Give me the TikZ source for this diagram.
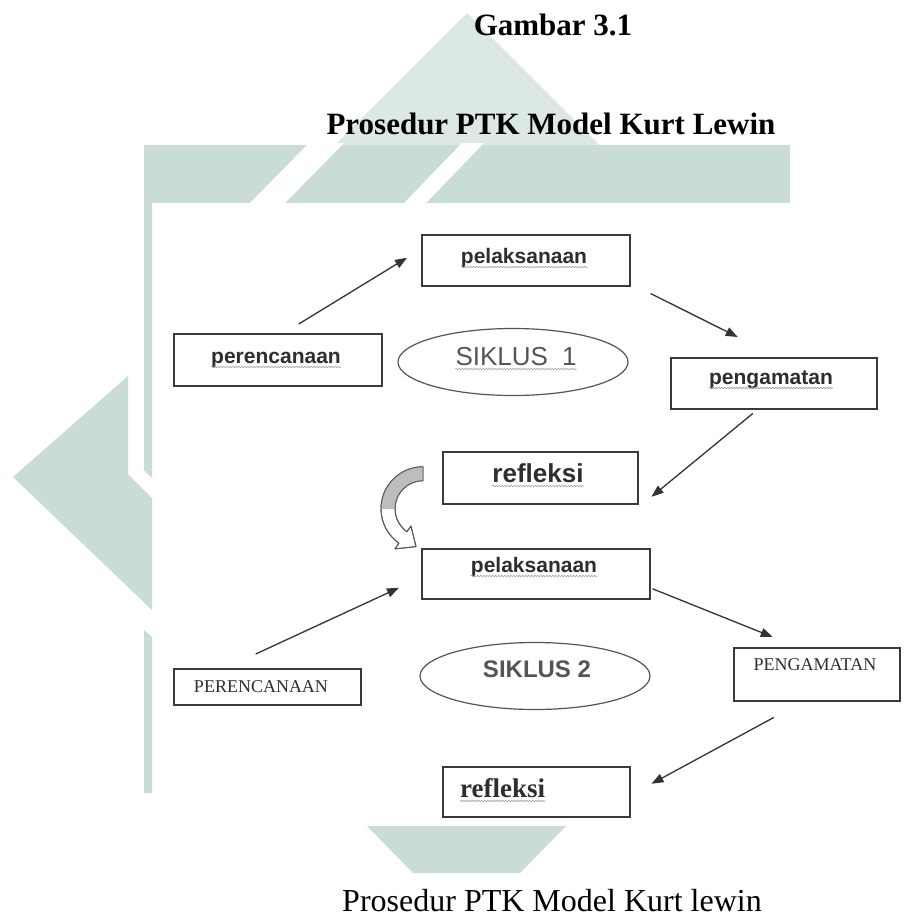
\documentclass[tikz,border=0pt]{standalone}
\usepackage{fontspec}
\setmainfont{Liberation Serif}
\newfontfamily\arialfont{Liberation Sans}
\usetikzlibrary{arrows.meta,calc,shapes.geometric,decorations.pathmorphing}
\definecolor{wm}{HTML}{CADDD4}
\definecolor{wmlight}{HTML}{DCE8E3}
\definecolor{boxline}{HTML}{3A3A3A}
\definecolor{txtdark}{HTML}{2E2E2E}
\definecolor{txtgray}{HTML}{555555}
\definecolor{arrowfill}{HTML}{BDBDBD}
\definecolor{squigc}{HTML}{9AA0A8}
\begin{document}
\begin{tikzpicture}[x=1pt,y=-1pt,
  boxn/.style={draw=boxline,line width=1.5pt,inner sep=0pt,anchor=north west},
  oval/.style={ellipse,draw=txtgray,line width=1.2pt,inner sep=0pt},
  sansb/.style={anchor=base,inner sep=0pt,text=txtdark,font=\arialfont\bfseries\fontsize{21pt}{21pt}\selectfont},
  serifcaps/.style={anchor=base,inner sep=0pt,text=txtdark,font=\fontsize{18pt}{18pt}\selectfont},
  sikl/.style={anchor=base,inner sep=0pt,text=txtgray},
  arr/.style={draw=black!80,line width=1.3pt,-{Triangle[length=12pt,width=9pt]}},
  squig/.style={draw=squigc,line width=0.6pt,decorate,decoration={snake,segment length=3pt,amplitude=0.8pt}},
  titlef/.style={anchor=base,inner sep=0pt,font=\bfseries\fontsize{31pt}{31pt}\selectfont},
  capf/.style={anchor=base,inner sep=0pt,font=\fontsize{32pt}{32pt}\selectfont}]
\useasboundingbox (0,0) rectangle (912,919);
\fill[white] (0,0) rectangle (912,919);

% watermark
\fill[wmlight] (467,13) -- (599,145) -- (335,145) -- cycle;
\fill[wm] (145,145) rectangle (790,203);
\fill[white] (250,203) -- (285,203) -- (344,143) -- (309,143) -- cycle;
\fill[white] (404,203) -- (426,203) -- (484,143) -- (462,143) -- cycle;
\fill[wm] (144,145) -- (152,145) -- (152,478) -- (144,470) -- cycle;
\fill[wm] (13,477) -- (128,376) -- (128,474) -- (152,498) -- (152,610) -- cycle;
\fill[wm] (144,630) -- (152,637) -- (152,793) -- (144,793) -- cycle;
\fill[wm] (367,826) -- (566,826) -- (520,873) -- (413,873) -- cycle;

% titles
\node[titlef] (gambar) at (553,35) {Gambar 3.1};
\node[titlef] (judul) at (551,134) {Prosedur PTK Model Kurt Lewin};
\node[capf] (caption) at (552,911) {Prosedur PTK Model Kurt lewin};

% cycle 1
\node[boxn,minimum width=208pt,minimum height=52pt] (perenc1) at (173,333) {};
\node[boxn,minimum width=208pt,minimum height=51pt] (pelaks1) at (421,234) {};
\node[oval,minimum width=230pt,minimum height=67pt] (siklus1) at (513,362) {};
\node[boxn,minimum width=206pt,minimum height=51pt] (peng1) at (670,357) {};
\node[boxn,minimum width=195pt,minimum height=52pt] (refl1) at (442,451) {};

\node[sansb] (tperenc1) at (276,363) {perencanaan};
\node[sansb] (tpelaks1) at (524,263) {pelaksanaan};
\node[sikl,font=\arialfont\fontsize{26pt}{26pt}\selectfont] (tsik1) at (516,365) {SIKLUS\hspace{14pt}1};
\node[sansb] (tpeng1) at (771,384) {pengamatan};
\node[sansb,font=\arialfont\bfseries\fontsize{26pt}{26pt}\selectfont] (trefl1) at (538,482) {refleksi};

% cycle 2
\node[boxn,minimum width=228pt,minimum height=50pt] (pelaks2) at (421,548) {};
\node[oval,minimum width=230pt,minimum height=67pt] (siklus2) at (535,676) {};
\node[boxn,minimum width=187pt,minimum height=36pt] (perenc2) at (173,668) {};
\node[boxn,minimum width=166pt,minimum height=53pt] (peng2) at (733,647) {};
\node[boxn,minimum width=187pt,minimum height=50pt] (refl2) at (442,766) {};

\node[sansb] (tpelaks2) at (534,572) {pelaksanaan};
\node[sikl,font=\arialfont\bfseries\fontsize{24pt}{24pt}\selectfont] (tsik2) at (537,677) {SIKLUS 2};
\node[serifcaps] (tperenc2) at (261,692) {PERENCANAAN};
\node[serifcaps] (tpeng2) at (815,670) {PENGAMATAN};
\node[anchor=base west,inner sep=0pt,text=txtdark,font=\bfseries\fontsize{27pt}{27pt}\selectfont] (trefl2) at (460,797) {refleksi};

% spell-check squiggles
\foreach \t in {tperenc1,tpelaks1,tsik1,tpeng1,trefl1,tpelaks2,trefl2}
  \draw[squig] ($(\t.base west)+(0,4)$) -- ($(\t.base east)+(0,4)$);

% arrows cycle 1
\draw[arr] ($(perenc1.north)+(21,-9)$) -- ($(pelaks1.west)+(-14,-2.5)$);
\draw[arr] ($(pelaks1.south east)+(20,7)$) -- ($(peng1.north)+(-36,-20)$);
\draw[arr] ($(peng1.south)+(-21,4)$) -- ($(refl1.east)+(13,19)$);

% arrows cycle 2
\draw[arr] ($(perenc2.north)+(-11.5,-14)$) -- ($(pelaks2.west)+(-22,14)$);
\draw[arr] ($(pelaks2.east)+(2,15)$) -- ($(peng2.north)+(-44,-10)$);
\draw[arr] ($(peng2.south)+(-43,16)$) -- ($(refl2.east)+(21,-8)$);

% curved block arrow from refleksi to pelaksanaan
\coordinate (cc) at ($(refl1.west)+(-19,31)$);
\coordinate (tip) at ($(cc)+(125:35)+(13.1,9.2)$);
\filldraw[fill=white,draw=txtgray,line width=0.9pt,line join=round]
  ($(cc)+(270:42)$) arc[start angle=270,end angle=125,radius=42]
  -- ($(cc)+(125:49)$) -- (tip) -- ($(cc)+(125:21)$) -- ($(cc)+(125:28)$)
  arc[start angle=125,end angle=270,radius=28] -- cycle;
\fill[arrowfill]
  ($(cc)+(270:42)$) arc[start angle=270,end angle=180,radius=42]
  -- ($(cc)+(180:28)$) arc[start angle=180,end angle=270,radius=28] -- cycle;
\draw[draw=txtgray,line width=0.9pt,line join=round]
  ($(cc)+(270:42)$) arc[start angle=270,end angle=125,radius=42]
  -- ($(cc)+(125:49)$) -- (tip) -- ($(cc)+(125:21)$) -- ($(cc)+(125:28)$)
  arc[start angle=125,end angle=270,radius=28] -- cycle;
\end{tikzpicture}
\end{document}
